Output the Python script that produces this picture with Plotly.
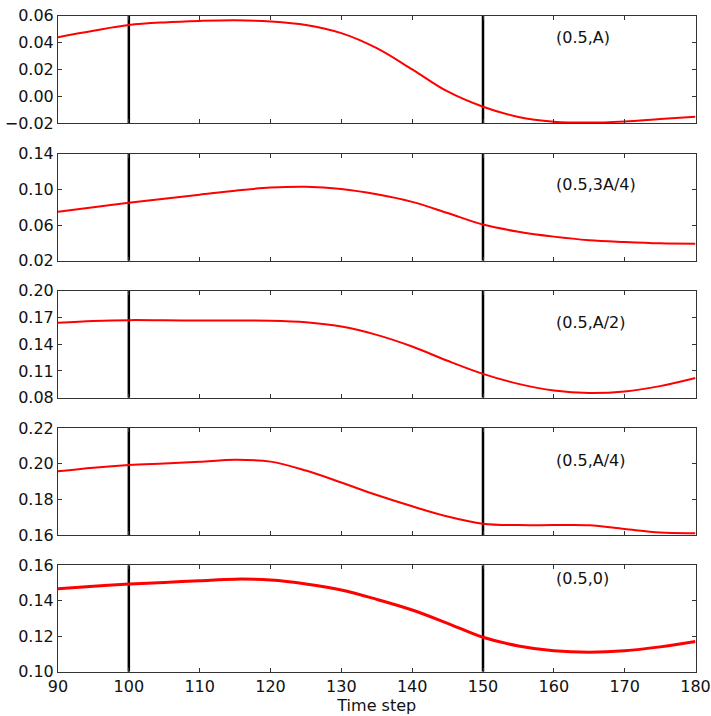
import plotly.graph_objects as go
from plotly.subplots import make_subplots

x = [90, 95, 100, 105, 110, 115, 120, 125, 130, 135, 140, 145, 150, 155, 160, 165, 170, 175, 180]

y_A = [0.044, 0.0488, 0.053, 0.0550, 0.0561, 0.0566, 0.0557, 0.0531, 0.0470, 0.0358, 0.0200, 0.0035, -0.0079, -0.0155, -0.0190, -0.0197, -0.0188, -0.0170, -0.0153]
y_3A4 = [0.075, 0.080, 0.085, 0.0895, 0.094, 0.0985, 0.1020, 0.1030, 0.1005, 0.0945, 0.0860, 0.0735, 0.0605, 0.0525, 0.0470, 0.0430, 0.0410, 0.0395, 0.0390]
y_A2 = [0.164, 0.1660, 0.1670, 0.1668, 0.1665, 0.1665, 0.1664, 0.1647, 0.1598, 0.1505, 0.1374, 0.1214, 0.1067, 0.0955, 0.0880, 0.0852, 0.0870, 0.0930, 0.1020]
y_A4 = [0.1958, 0.1978, 0.1993, 0.2002, 0.2011, 0.2022, 0.2012, 0.1962, 0.1895, 0.1825, 0.1762, 0.1705, 0.1665, 0.1657, 0.1657, 0.1656, 0.1635, 0.1615, 0.1612]
y_0 = [0.1468, 0.1482, 0.1494, 0.1503, 0.1513, 0.1522, 0.1517, 0.1495, 0.1461, 0.1408, 0.1348, 0.1273, 0.1194, 0.1145, 0.1118, 0.1110, 0.1118, 0.1140, 0.1170]

series = [y_A, y_3A4, y_A2, y_A4, y_0]
labels = ["(0.5,A)", "(0.5,3A/4)", "(0.5,A/2)", "(0.5,A/4)", "(0.5,0)"]
y_ranges = [[-0.02, 0.06], [0.02, 0.14], [0.08, 0.20], [0.16, 0.22], [0.10, 0.16]]
y_ticks = [
    [-0.02, 0.00, 0.02, 0.04, 0.06],
    [0.02, 0.06, 0.10, 0.14],
    [0.08, 0.11, 0.14, 0.17, 0.20],
    [0.16, 0.18, 0.20, 0.22],
    [0.10, 0.12, 0.14, 0.16],
]
label_y = [0.0434, 0.105, 0.1646, 0.2021, 0.1528]
vlines = [100, 150]
x_ticks = [90, 100, 110, 120, 130, 140, 150, 160, 170, 180]

W, H = 711, 716
panels_px = [(15.7, 123.0), (153.7, 260.7), (290.7, 397.7), (428.0, 535.3), (565.3, 671.7)]

fig = make_subplots(rows=5, cols=1, shared_xaxes=True)
font = dict(family="DejaVu Sans", size=16, color="#111111")

for i, ys in enumerate(series):
    r = i + 1
    for v in vlines:
        fig.add_trace(go.Scatter(x=[v, v], y=y_ranges[i], mode="lines",
                                 line=dict(color="black", width=2.5),
                                 showlegend=False, hoverinfo="skip"), row=r, col=1)
    fig.add_trace(go.Scatter(x=x, y=ys, mode="lines", line_shape="spline",
                             line=dict(color="#ff0000", width=3 if r == 5 else 2),
                             showlegend=False), row=r, col=1)
    fig.add_annotation(x=160, y=label_y[i], text=labels[i], showarrow=False,
                       xanchor="left", yanchor="middle", font=font, row=r, col=1)
    top, bot = panels_px[i]
    fig.update_yaxes(row=r, col=1, range=y_ranges[i], tickvals=y_ticks[i],
                     ticktext=[("\u2212" if t < 0 else "") + f"{abs(t):.2f}" for t in y_ticks[i]],
                     domain=[1 - bot / H, 1 - top / H], automargin=False,
                     showgrid=False, zeroline=False, showline=True, linecolor="#333333",
                     linewidth=1, mirror="allticks", ticks="inside", ticklen=4,
                     tickcolor="#333333", tickfont=font)
    fig.update_xaxes(row=r, col=1, range=[90, 180], tickvals=x_ticks,
                     showticklabels=(r == 5), domain=[58 / W, 695.5 / W], automargin=False,
                     showgrid=False, zeroline=False, showline=True, linecolor="#333333",
                     linewidth=1, mirror="allticks", ticks="inside", ticklen=4,
                     tickcolor="#333333", tickfont=font)

fig.update_xaxes(row=5, col=1, title=dict(text="Time step", font=dict(family="DejaVu Sans", size=16, color="#111111"), standoff=2))

fig.update_layout(width=W, height=H, margin=dict(l=0, r=0, t=0, b=0),
                  plot_bgcolor="white", paper_bgcolor="white")

fig.write_html("out.html")
